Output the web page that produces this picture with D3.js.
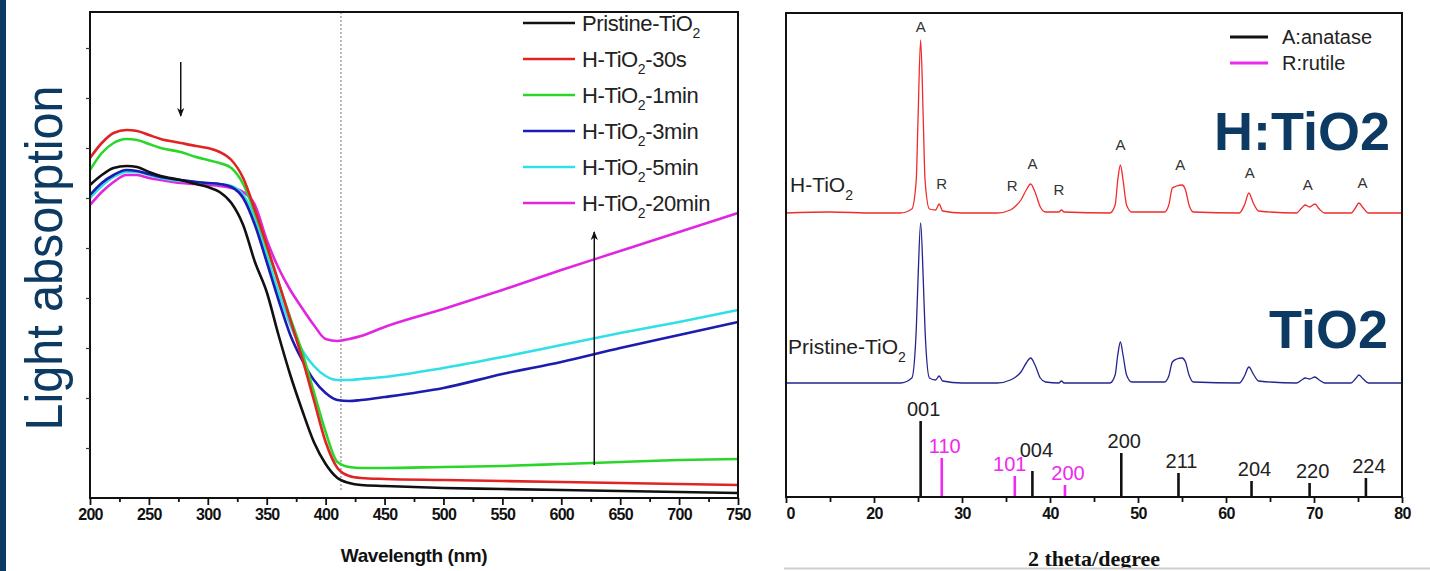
<!DOCTYPE html>
<html>
<head>
<meta charset="utf-8">
<script src="https://cdn.jsdelivr.net/npm/d3@7"></script>
<style>
body { margin: 0; background: #fff; }
svg { display: block; font-family: "Liberation Sans", Arial, sans-serif; }
</style>
</head>
<body>
<script>
// ---- left panel: UV-vis absorption ----
var wavelength = [200, 210, 220, 231, 240, 250, 260, 277, 290, 300, 310, 320, 330, 340, 350,
    360, 370, 380, 390, 400, 410, 420, 430, 450, 500, 550, 600, 650, 700, 750];
var absPristine = [3.13, 3.23, 3.30, 3.32, 3.31, 3.26, 3.22, 3.18, 3.14, 3.11, 3.06, 2.95, 2.73, 2.36, 2.06,
    1.63, 1.23, 0.88, 0.56, 0.34, 0.20, 0.15, 0.13, 0.12, 0.10, 0.09, 0.08, 0.07, 0.06, 0.05];
var abs30s = [3.40, 3.55, 3.65, 3.68, 3.67, 3.63, 3.59, 3.55, 3.52, 3.50, 3.46, 3.38, 3.20, 2.88, 2.53,
    2.16, 1.78, 1.40, 0.98, 0.56, 0.30, 0.22, 0.20, 0.19, 0.18, 0.17, 0.16, 0.15, 0.14, 0.13];
var abs1min = [3.28, 3.45, 3.55, 3.59, 3.58, 3.54, 3.50, 3.46, 3.41, 3.38, 3.35, 3.30, 3.14, 2.85, 2.51,
    2.15, 1.80, 1.46, 1.06, 0.66, 0.36, 0.31, 0.30, 0.30, 0.31, 0.32, 0.34, 0.36, 0.38, 0.39];
var abs3min = [3.03, 3.15, 3.23, 3.28, 3.27, 3.24, 3.21, 3.18, 3.16, 3.15, 3.14, 3.11, 3.00, 2.73, 2.36,
    1.98, 1.63, 1.38, 1.18, 1.05, 0.98, 0.97, 0.98, 1.01, 1.10, 1.24, 1.36, 1.50, 1.63, 1.76];
var abs5min = [3.00, 3.12, 3.21, 3.26, 3.26, 3.23, 3.20, 3.17, 3.16, 3.15, 3.14, 3.12, 3.03, 2.80, 2.43,
    2.06, 1.73, 1.48, 1.32, 1.22, 1.18, 1.18, 1.19, 1.21, 1.30, 1.41, 1.53, 1.65, 1.76, 1.88];
var abs20min = [2.93, 3.06, 3.16, 3.23, 3.23, 3.20, 3.18, 3.15, 3.14, 3.13, 3.12, 3.10, 3.06, 2.93, 2.58,
    2.30, 2.08, 1.90, 1.73, 1.59, 1.57, 1.59, 1.62, 1.71, 1.89, 2.08, 2.28, 2.47, 2.66, 2.85];

var uvLabels = [['Pristine-TiO', '2', ''], ['H-TiO', '2', '-30s'], ['H-TiO', '2', '-1min'],
    ['H-TiO', '2', '-3min'], ['H-TiO', '2', '-5min'], ['H-TiO', '2', '-20min']];
var uvColors = ['#111111', '#e02424', '#2bd62b', '#1c1cb0', '#2fe0e6', '#e026e0'];
var uvValues = [absPristine, abs30s, abs1min, abs3min, abs5min, abs20min];
var uvTicks = [200, 250, 300, 350, 400, 450, 500, 550, 600, 650, 700, 750];
var edgeNm = 413;

// ---- right panel: XRD ----
var twoTheta = [10, 15, 20, 23, 24.3, 24.8, 25.0, 25.3, 25.6, 25.8, 26.3, 27.0, 27.4, 27.8, 30, 34,
    35.5, 36.1, 36.7, 37.3, 37.8, 38.3, 38.9, 39.5, 41, 41.3, 41.6, 46.8, 47.4, 47.7, 48.0, 48.3,
    48.7, 49.3, 53.0, 53.5, 53.9, 54.4, 55.0, 55.4, 55.8, 56.3, 61.5, 62.1, 62.6, 63.1, 63.7, 68.0,
    68.6, 69.0, 69.5, 70.1, 70.6, 71.2, 74.2, 74.7, 75.1, 75.6, 76.2, 80];
var xrdHTiO2 = [284, 285, 284, 284, 288, 317, 377, 457, 377, 317, 288, 287, 293, 286, 284, 284,
    287, 291, 297, 307, 313, 305, 290, 285, 285, 287, 285, 284, 292, 317, 332, 317,
    292, 285, 285, 292, 309, 311, 312, 307, 292, 285, 284, 292, 304, 294, 286, 284,
    289, 292, 290, 293, 288, 284, 284, 289, 294, 289, 284, 284];
var xrdPristine = [114, 114, 114, 114, 119, 167, 217, 274, 217, 167, 119, 117, 121, 116, 114, 114,
    117, 120, 125, 134, 139, 132, 119, 115, 114, 116, 114, 114, 122, 142, 155, 142,
    122, 115, 115, 121, 135, 138, 139, 135, 122, 115, 114, 121, 130, 123, 116, 114,
    117, 119, 118, 120, 117, 114, 114, 118, 122, 118, 114, 114];

var stickPos = [25.3, 27.7, 36.0, 38.0, 41.7, 48.1, 54.6, 62.9, 69.5, 75.9];
var stickHeight = [76, 39, 21, 26, 12, 44, 24, 16, 14, 19];
var stickLabel = ['001', '110', '101', '004', '200', '200', '211', '204', '220', '224'];
var stickPhase = ['A', 'R', 'R', 'A', 'R', 'A', 'A', 'A', 'A', 'A'];

var markPos = [25.3, 27.7, 35.7, 38.0, 41.0, 48.0, 54.8, 62.7, 69.3, 75.5];
var markText = ['A', 'R', 'R', 'A', 'R', 'A', 'A', 'A', 'A', 'A'];
var xrdTicks = [10, 20, 30, 40, 50, 60, 70, 80];

var navy = '#0d3a62';
var svg = d3.select('body').append('svg').attr('width', 1430).attr('height', 571);
var defs = svg.append('defs');

defs.append('marker')
    .attr('id', 'head').attr('viewBox', '0 0 10 10').attr('refX', 9).attr('refY', 5)
    .attr('markerWidth', 9).attr('markerHeight', 9).attr('markerUnits', 'userSpaceOnUse')
    .attr('orient', 'auto')
    .append('path').attr('d', 'M0,1 L10,5 L0,9 L3,5 z').attr('fill', '#111');

svg.append('rect').attr('x', 0).attr('y', 0).attr('width', 6).attr('height', 571).attr('fill', navy);

svg.append('text')
    .attr('transform', 'translate(62,258) rotate(-90)')
    .attr('text-anchor', 'middle')
    .attr('font-size', 52)
    .attr('fill', navy)
    .attr('textLength', 345).attr('lengthAdjust', 'spacingAndGlyphs')
    .text('Light absorption');

// ================= left chart =================
var xL = d3.scaleLinear().domain([200, 750]).range([90, 738]);
var yL = d3.scaleLinear().domain([0, 4.88]).range([498, 10]);
var gL = svg.append('g');

gL.append('line')
    .attr('x1', xL(edgeNm)).attr('x2', xL(edgeNm))
    .attr('y1', 12).attr('y2', 490)
    .attr('stroke', '#8a8a8a').attr('stroke-width', 1.2).attr('stroke-dasharray', '2,2');

var lineL = d3.line()
    .x(function (d, i) { return xL(wavelength[i]); })
    .y(function (d) { return yL(d); })
    .curve(d3.curveMonotoneX);

[5, 4, 3, 2, 1, 0].forEach(function (k) {
    gL.append('path')
        .attr('d', lineL(uvValues[k]))
        .attr('fill', 'none')
        .attr('stroke', uvColors[k])
        .attr('stroke-width', 2.6);
});

// arrows
gL.append('line')
    .attr('x1', xL(277)).attr('x2', xL(277))
    .attr('y1', yL(4.36)).attr('y2', yL(3.82))
    .attr('stroke', '#111').attr('stroke-width', 1.5).attr('marker-end', 'url(#head)');
gL.append('line')
    .attr('x1', xL(628)).attr('x2', xL(628))
    .attr('y1', yL(0.33)).attr('y2', yL(2.66))
    .attr('stroke', '#111').attr('stroke-width', 1.5).attr('marker-end', 'url(#head)');

gL.append('rect')
    .attr('x', 90).attr('y', 12).attr('width', 648).attr('height', 486)
    .attr('fill', 'none').attr('stroke', '#111').attr('stroke-width', 2);

var axL = gL.append('g').attr('transform', 'translate(0,498)')
    .call(d3.axisBottom(xL).tickValues(uvTicks).tickSize(7).tickSizeOuter(0).tickPadding(4));
axL.append('g').call(d3.axisBottom(xL).tickValues(d3.range(225, 750, 50)).tickSize(4).tickFormat(''))
    .select('.domain').remove();
axL.select('.domain').remove();
axL.selectAll('line').attr('stroke', '#111').attr('stroke-width', 1.8);
axL.selectAll('text')
    .attr('font-family', '"Liberation Sans", Arial, sans-serif')
    .attr('font-size', 16).attr('font-weight', 'bold').attr('fill', '#111')
    .attr('letter-spacing', -0.7);

var ayL = gL.append('g').attr('transform', 'translate(90,0)')
    .call(d3.axisLeft(yL).tickValues([0.5, 1, 1.5, 2, 2.5, 3, 3.5, 4, 4.5]).tickSize(4).tickFormat(''));
ayL.select('.domain').remove();
ayL.selectAll('line').attr('stroke', '#333').attr('stroke-width', 1.2);

gL.append('text')
    .attr('x', 414).attr('y', 562).attr('text-anchor', 'middle')
    .attr('font-size', 19).attr('font-weight', 'bold').attr('fill', '#111')
    .attr('letter-spacing', -0.4)
    .text('Wavelength (nm)');

// legend
var legL = gL.selectAll('g.leg').data(uvLabels).enter().append('g')
    .attr('class', 'leg')
    .attr('transform', function (d, i) { return 'translate(523,' + (23 + i * 36) + ')'; });
legL.append('line')
    .attr('x1', 0).attr('x2', 52).attr('y1', 0).attr('y2', 0)
    .attr('stroke', function (d, i) { return uvColors[i]; }).attr('stroke-width', 2.6);
var legText = legL.append('text').attr('x', 59).attr('y', 8)
    .attr('font-size', 22).attr('fill', '#222').attr('letter-spacing', -0.4);
legText.append('tspan').text(function (d) { return d[0]; });
legText.append('tspan').attr('dy', 7).attr('font-size', 14).text(function (d) { return d[1]; });
legText.append('tspan').attr('dy', -7).text(function (d) { return d[2]; });

// ================= right chart =================
defs.append('clipPath').attr('id', 'rclip')
    .append('rect').attr('x', 784).attr('y', 0).attr('width', 646).attr('height', 568);
// the left part of the first tick label is cropped off in the source image
defs.append('clipPath').attr('id', 'tclip')
    .append('rect').attr('x', 0.5).attr('y', 0).attr('width', 40).attr('height', 40);

var xR = d3.scaleLinear().domain([10, 80]).range([786, 1402]);
var yR = d3.scaleLinear().domain([0, 484]).range([497, 13]);
var gR = svg.append('g').attr('clip-path', 'url(#rclip)');

var lineR = d3.line()
    .x(function (d, i) { return xR(twoTheta[i]); })
    .y(function (d) { return yR(d); })
    .curve(d3.curveMonotoneX);

gR.append('path').attr('d', lineR(xrdHTiO2))
    .attr('fill', 'none').attr('stroke', '#f02b2b').attr('stroke-width', 1.3);
gR.append('path').attr('d', lineR(xrdPristine))
    .attr('fill', 'none').attr('stroke', '#24248f').attr('stroke-width', 1.3);

// reference sticks
var labelNudge = { '101': [-8, 0], '004': [1, -9] };
function isRutile(i) { return stickPhase[i] === 'R'; }
function nudge(i) {
    var n = (!isRutile(i) || stickLabel[i] === '101') && labelNudge[stickLabel[i]];
    return n || [0, 0];
}
gR.selectAll('line.stick').data(stickPos).enter().append('line')
    .attr('class', 'stick')
    .attr('x1', function (d) { return xR(d); }).attr('x2', function (d) { return xR(d); })
    .attr('y1', yR(0))
    .attr('y2', function (d, i) { return yR(stickHeight[i]); })
    .attr('stroke', function (d, i) { return isRutile(i) ? '#ee2aee' : '#111'; })
    .attr('stroke-width', 2.6);
gR.selectAll('text.stick').data(stickPos).enter().append('text')
    .attr('class', 'stick')
    .attr('x', function (d, i) { return xR(d) + 3 + nudge(i)[0]; })
    .attr('y', function (d, i) { return yR(stickHeight[i]) - 5 + nudge(i)[1]; })
    .attr('text-anchor', 'middle')
    .attr('font-size', 20)
    .attr('fill', function (d, i) { return isRutile(i) ? '#ee2aee' : '#222'; })
    .text(function (d, i) { return stickLabel[i]; });

// peak marks above the H-TiO2 pattern
function localMax(pos) {
    var m = 0;
    twoTheta.forEach(function (t, i) {
        if (Math.abs(t - pos) <= 0.7 && xrdHTiO2[i] > m) m = xrdHTiO2[i];
    });
    return m;
}
gR.selectAll('text.mark').data(markPos).enter().append('text')
    .attr('class', 'mark')
    .attr('x', function (d) { return xR(d); })
    .attr('y', function (d) { return Math.max(yR(localMax(d)) - 15, 32); })
    .attr('text-anchor', 'middle')
    .attr('font-size', 15).attr('fill', '#333')
    .text(function (d, i) { return markText[i]; });

gR.append('rect')
    .attr('x', 786).attr('y', 13).attr('width', 616).attr('height', 484)
    .attr('fill', 'none').attr('stroke', '#111').attr('stroke-width', 2);

var axR = gR.append('g').attr('transform', 'translate(0,497)')
    .call(d3.axisBottom(xR).tickValues(xrdTicks).tickSize(6).tickSizeOuter(0).tickPadding(5));
axR.append('g').call(d3.axisBottom(xR).tickValues(d3.range(15, 80, 10)).tickSize(5).tickFormat(''))
    .select('.domain').remove();
axR.select('.domain').remove();
axR.selectAll('line').attr('stroke', '#111').attr('stroke-width', 1.8);
axR.selectAll('text')
    .attr('font-family', '"Liberation Sans", Arial, sans-serif')
    .attr('font-size', 16).attr('font-weight', 'bold').attr('fill', '#111')
    .attr('letter-spacing', -0.6);
axR.selectAll('.tick').filter(function (d) { return d === 10; })
    .select('text').attr('clip-path', 'url(#tclip)');

gR.append('text')
    .attr('x', 1094).attr('y', 566).attr('text-anchor', 'middle')
    .attr('font-family', '"Liberation Serif", "Times New Roman", serif')
    .attr('font-size', 22).attr('font-weight', 'bold').attr('fill', '#111')
    .text('2 theta/degree');

svg.append('line').attr('x1', 784).attr('x2', 1430).attr('y1', 568.5).attr('y2', 568.5)
    .attr('stroke', '#cfcfcf').attr('stroke-width', 2);

// pattern names
function subLabel(g, x, y, a, b) {
    var t = g.append('text').attr('x', x).attr('y', y).attr('font-size', 21).attr('fill', '#222');
    t.append('tspan').text(a);
    t.append('tspan').attr('dy', 8).attr('font-size', 14).text(b);
}
subLabel(gR, 790, 192, 'H-TiO', '2');
subLabel(gR, 788, 354, 'Pristine-TiO', '2');

// phase legend
var phaseLeg = [['A:anatase', '#111'], ['R:rutile', '#ee2aee']];
var legR = gR.selectAll('g.pleg').data(phaseLeg).enter().append('g')
    .attr('class', 'pleg')
    .attr('transform', function (d, i) { return 'translate(1230,' + (37 + i * 26) + ')'; });
legR.append('line').attr('x1', 0).attr('x2', 38).attr('y1', 0).attr('y2', 0)
    .attr('stroke', function (d) { return d[1]; }).attr('stroke-width', 3);
legR.append('text').attr('x', 52).attr('y', 7)
    .attr('font-size', 20).attr('fill', '#222')
    .text(function (d) { return d[0]; });

// big sample names
gR.append('text').attr('x', 1390).attr('y', 150).attr('text-anchor', 'end')
    .attr('font-size', 54).attr('font-weight', 'bold').attr('fill', navy).text('H:TiO2');
gR.append('text').attr('x', 1388).attr('y', 348).attr('text-anchor', 'end')
    .attr('font-size', 54).attr('font-weight', 'bold').attr('fill', navy).text('TiO2');
</script>
</body>
</html>
